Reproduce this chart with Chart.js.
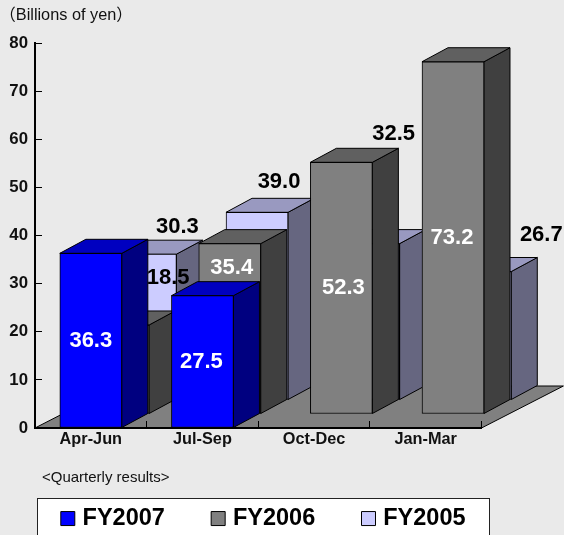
<!DOCTYPE html>
<html>
<head>
<meta charset="utf-8">
<style>html,body{margin:0;padding:0;background:#eaeaea}canvas{display:block}</style>
<script src="https://cdn.jsdelivr.net/npm/chart.js@4"></script>
</head>
<body>
<canvas id="c" width="564" height="535"></canvas>
<script>
const categories = ['Apr-Jun', 'Jul-Sep', 'Oct-Dec', 'Jan-Mar'];
const fy2007 = [36.3, 27.5, null, null];
const fy2006 = [18.5, 35.4, 52.3, 73.2];
const fy2005 = [30.3, 39.0, 32.5, 26.7];
const yTicks = [0, 10, 20, 30, 40, 50, 60, 70, 80];

const FONT = '"Liberation Sans", Arial, sans-serif';
const STEP_X = 27.3, STEP_Y = 14;       // depth shift of one series row
const BAR_DX = 26, BAR_DY = 14;         // depth of one bar
const faces = [
  {top: '#0000c0', side: '#000080'},
  {top: '#606060', side: '#404040'},
  {top: '#9999c0', side: '#666680'}
];
const labelStyle = [
  {color: '#fff', nudge: [[0, 1], [-1, 0]]},
  {color: '#fff', nudge: [[50, -91], [2, -61], [2, 0], [-1, 0]]},
  {color: '#000', nudge: [[32, -100], [22, -124], [25, -188], [61, -101]]}
];
const blackLabels = {'1:0': true};

function poly(ctx, pts, fill) {
  ctx.beginPath();
  pts.forEach((p, i) => i ? ctx.lineTo(p[0], p[1]) : ctx.moveTo(p[0], p[1]));
  ctx.closePath();
  if (fill) { ctx.fillStyle = fill; ctx.fill(); }
  ctx.strokeStyle = '#000';
  ctx.lineWidth = 1;
  ctx.stroke();
}

const depthPlugin = {
  id: 'depth',
  afterDatasetsUpdate(chart) {
    chart.data.datasets.forEach((ds, i) => {
      chart.getDatasetMeta(i).data.forEach(el => {
        el.x += i * STEP_X;
        el.y -= i * STEP_Y;
        el.base -= i * STEP_Y;
      });
    });
  },
  afterLayout(chart) {
    const lg = chart.legend;
    lg.left = 14.5; lg.right = 564;
    lg.top = 456.5; lg.bottom = 535;
  },
  beforeDraw(chart) {
    const ctx = chart.ctx, a = chart.chartArea;
    ctx.save();
    ctx.fillStyle = '#eaeaea';
    ctx.fillRect(0, 0, chart.width, chart.height);
    // legend frame
    ctx.fillStyle = '#fff';
    ctx.fillRect(37, 498, 452, 40);
    ctx.strokeStyle = '#222';
    ctx.lineWidth = 1;
    ctx.strokeRect(37.5, 498.5, 452, 40);
    // floor
    const dx = 3 * STEP_X, dy = 3 * STEP_Y;
    poly(ctx, [[a.left, a.bottom], [a.right, a.bottom], [a.right + dx, a.bottom - dy], [a.left + dx, a.bottom - dy]], '#808080');
    // annotations
    ctx.fillStyle = '#111';
    ctx.textBaseline = 'middle';
    ctx.textAlign = 'left';
    ctx.font = '16.3px ' + FONT + ', "Noto Sans CJK JP"';
    ctx.fillText('（Billions of yen）', -0.5, 15.5);
    ctx.font = '15px ' + FONT;
    ctx.fillText('<Quarterly results>', 42, 477.5);
    ctx.restore();
  },
  beforeDatasetDraw(chart, args) {
    const ctx = chart.ctx, f = faces[args.index];
    ctx.save();
    args.meta.data.forEach((el, j) => {
      if (chart.data.datasets[args.index].data[j] == null) return;
      const l = el.x - el.width / 2, r = el.x + el.width / 2, t = el.y, b = el.base;
      poly(ctx, [[r, t], [r + BAR_DX, t - BAR_DY], [r + BAR_DX, b - BAR_DY], [r, b]], f.side);
      poly(ctx, [[l, t], [l + BAR_DX, t - BAR_DY], [r + BAR_DX, t - BAR_DY], [r, t]], f.top);
    });
    ctx.restore();
  },
  afterDatasetsDraw(chart) {
    const ctx = chart.ctx;
    ctx.save();
    ctx.font = 'bold 22px ' + FONT;
    ctx.textAlign = 'center';
    ctx.textBaseline = 'middle';
    chart.data.datasets.forEach((ds, i) => {
      chart.getDatasetMeta(i).data.forEach((el, j) => {
        const v = ds.data[j];
        if (v == null) return;
        const n = labelStyle[i].nudge[j];
        ctx.fillStyle = blackLabels[i + ':' + j] ? '#000' : labelStyle[i].color;
        ctx.fillText(v.toFixed(1), el.x + n[0], (el.y + el.base) / 2 + n[1]);
      });
    });
    ctx.restore();
  }
};

function series(label, data, color) {
  return {label, data, backgroundColor: color, borderColor: '#000', borderWidth: 1, borderSkipped: false, clip: false, barThickness: 62, grouped: false};
}

new Chart(document.getElementById('c'), {
  type: 'bar',
  data: {
    labels: categories,
    datasets: [
      series('FY2007', fy2007, '#0000ff'),
      series('FY2006', fy2006, '#808080'),
      series('FY2005', fy2005, '#ccccff')
    ]
  },
  plugins: [depthPlugin],
  options: {
    responsive: false,
    animation: false,
    layout: {padding: {top: 43, right: 0, left: 0, bottom: 0}},
    plugins: {
      tooltip: {enabled: false},
      title: {display: false},
      legend: {
        display: true,
        position: 'bottom',
        align: 'start',
        labels: {
          usePointStyle: true,
          pointStyle: 'rect',
          boxWidth: 6,
          boxHeight: 14,
          padding: 50.3,
          color: '#000',
          font: {family: FONT, weight: 'bold', size: 23.5}
        }
      }
    },
    scales: {
      x: {
        type: 'category',
        offset: true,
        grid: {display: true, offset: true, drawOnChartArea: false, tickLength: -7, tickColor: '#000', lineWidth: 1},
        border: {display: true, color: '#000', width: 2},
        ticks: {color: '#111', padding: 9, maxRotation: 0, font: {family: FONT, weight: 'bold', size: 16.3}},
        afterFit(s) { s.height = 107 - (s.chart.legend ? s.chart.legend.height : 0); }
      },
      y: {
        type: 'linear',
        min: yTicks[0],
        max: yTicks[yTicks.length - 1],
        afterBuildTicks(s) { s.ticks = yTicks.map(value => ({value})); },
        grid: {display: true, drawOnChartArea: false, tickLength: -7, tickColor: '#000', lineWidth: 1},
        border: {display: true, color: '#000', width: 2},
        ticks: {color: '#111', padding: 14, font: {family: FONT, weight: 'bold', size: 16.8}},
        afterFit(s) { s.width = 35; }
      },
      rightMargin: {
        position: 'right',
        display: true,
        grid: {display: false},
        border: {display: false},
        ticks: {display: false},
        afterFit(s) { s.width = 82.5; }
      }
    }
  }
});
</script>
</body>
</html>
